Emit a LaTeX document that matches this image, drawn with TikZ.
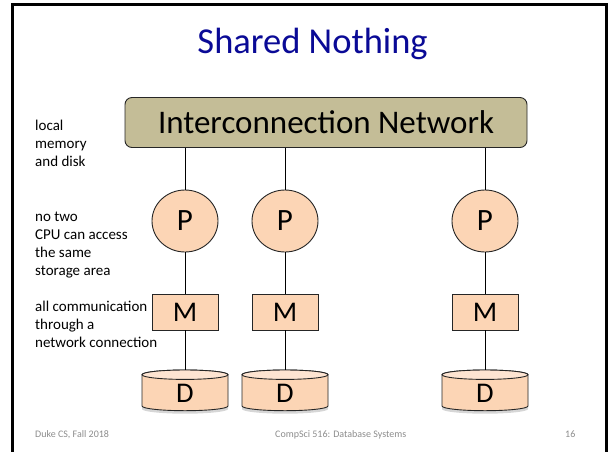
\documentclass[tikz,border=0pt]{standalone}
\usepackage{fontspec}
\setmainfont{Carlito}
\usetikzlibrary{shapes.geometric}

\definecolor{titleblue}{HTML}{0A0A96}
\definecolor{netfill}{HTML}{C4BD97}
\definecolor{peach}{HTML}{FCD5B5}
\definecolor{peachlight}{HTML}{FDE4D2}
\definecolor{footgray}{HTML}{8C8C8C}

\newcommand{\fsz}[1]{\fontsize{#1}{#1}\selectfont}

\tikzset{
  outline/.style={draw=black!85, line width=0.9pt},
  netbox/.style={outline, fill=netfill, rounded corners=7pt,
    minimum width=402pt, minimum height=50pt, inner sep=0pt, font=\fsz{33}},
  procnode/.style={ellipse, outline, fill=peach, minimum width=66pt,
    minimum height=62pt, inner sep=0pt, font=\fsz{31}},
  memnode/.style={rectangle, outline, fill=peach, minimum width=66pt,
    minimum height=36pt, inner sep=0pt, font=\fsz{28.5}},
  disklabel/.style={minimum width=86pt, minimum height=47pt, inner sep=0pt,
    font=\fsz{28.5}},
  link/.style={draw=black, line width=1pt},
  sidenote/.style={anchor=base west, inner sep=0pt, font=\fsz{15}},
  footer/.style={inner sep=0pt, text=footgray, font=\fsz{10}},
}

\begin{document}
\begin{tikzpicture}[x=1pt, y=-1pt]
\useasboundingbox (0,0) rectangle (611,451);

% slide frame
\draw[line width=3pt] (12.5,460) -- (12.5,4.2) -- (606.5,4.2) -- (606.5,460);

% title
\node[anchor=base, inner sep=0pt, text=titleblue, font=\fsz{36.5}] (title)
  at (312.6,53.3) {Shared Nothing};

% interconnection network
\node[netbox] (net) at (326,122.5) {Interconnection Network};

% processors
\node[procnode] (p1) at (185,221) {P};
\node[procnode] (p2) at (285,221) {P};
\node[procnode] (p3) at (485,221) {P};

% memories
\node[memnode] (m1) at (185,312) {M};
\node[memnode] (m2) at (285,312) {M};
\node[memnode] (m3) at (485,312) {M};

% disks: shadow, body, lighter top
\foreach \c in {185,285,485} {
  \begin{scope}[shift={(0,3)}]
    \fill[black, opacity=0.16] (\c-43,374.7) -- (\c-43,406)
      arc[start angle=180, end angle=360, x radius=43pt, y radius=4.7pt]
      -- (\c+43,374.7) -- cycle;
  \end{scope}
  \draw[outline, fill=peach] (\c-43,374.7) -- (\c-43,406)
    arc[start angle=180, end angle=360, x radius=43pt, y radius=4.7pt]
    -- (\c+43,374.7)
    arc[start angle=0, end angle=180, x radius=43pt, y radius=4.7pt] -- cycle;
  \draw[outline, fill=peachlight] (\c,374.7) ellipse [x radius=43pt, y radius=4.7pt];
}
\node[disklabel] (d1) at (185,393.5) {D};
\node[disklabel] (d2) at (285,393.5) {D};
\node[disklabel] (d3) at (485,393.5) {D};

% connections
\foreach \i in {1,2,3} {
  \draw[link] (p\i.north |- net.south) -- (p\i.north);
  \draw[link] (p\i.south) -- (m\i.north);
  \draw[link] (m\i.south) -- (d\i.north);
}

% side notes
\node[sidenote] (n1) at (35,130) {local};
\node[sidenote] (n2) at (35,148) {memory};
\node[sidenote] (n3) at (35,166) {and disk};
\node[sidenote] (n4) at (35,221) {no two};
\node[sidenote] (n5) at (35,239) {CPU can access};
\node[sidenote] (n6) at (35,257) {the same};
\node[sidenote] (n7) at (35,275) {storage area};
\node[sidenote] (n8) at (35,311) {all communication};
\node[sidenote] (n9) at (35,329) {through a};
\node[sidenote] (n10) at (35,347) {network connection};

% footer
\node[footer, anchor=base west] (f1) at (35,437) {Duke CS, Fall 2018};
\node[footer, anchor=base west] (f2) at (275,437) {CompSci 516: Database Systems};
\node[footer, anchor=base west] (f3) at (565,437) {16};
\end{tikzpicture}
\end{document}
